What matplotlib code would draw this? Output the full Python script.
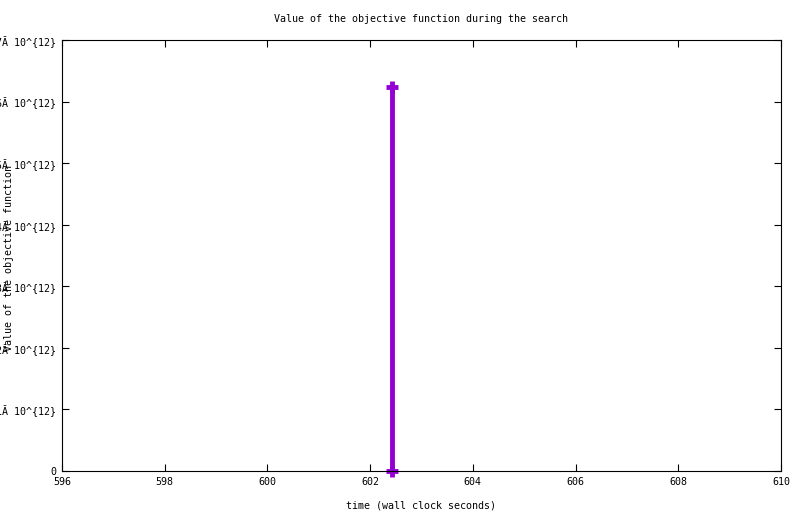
import matplotlib.pyplot as plt
import numpy as np

# search trace: time (wall clock seconds) vs objective value
times = [602.43, 602.43]
values = [0.0, 6.23e12]

x_ticks = [596, 598, 600, 602, 604, 606, 608, 610]
y_ticks = [0, 1e12, 2e12, 3e12, 4e12, 5e12, 6e12, 7e12]
y_labels = ["0"] + ["%dĂ 10^{12}" % i for i in range(1, 8)]

plt.rcParams['font.family'] = ['DejaVu Sans Mono']
plt.rcParams['font.size'] = 7.2

fig = plt.figure(figsize=(8.0, 5.14), dpi=100)
ax = fig.add_axes([62 / 800, 1 - 471 / 514, (781 - 62) / 800, (471 - 40) / 514])

ax.plot(times, values, color='#9400D3', linewidth=3.5, marker='+',
        markersize=9, markeredgewidth=3.5, clip_on=False)

ax.set_xlim(596, 610)
ax.set_ylim(0, 7e12)
ax.set_xticks(x_ticks)
ax.set_yticks(y_ticks)
ax.set_yticklabels(y_labels)
ax.tick_params(direction='in', top=True, right=True, length=5, width=0.8, pad=4)

for s in ax.spines.values():
    s.set_linewidth(0.8)

fig.text(421 / 800, 1 - 19 / 514, "Value of the objective function during the search",
         ha='center', va='center')
fig.text(421 / 800, 1 - 505 / 514, "time (wall clock seconds)", ha='center', va='center')
fig.text(9 / 800, 1 - 258 / 514, "Value of the objective function", rotation=90,
         ha='center', va='center')

fig.savefig("out.png", dpi=100)
